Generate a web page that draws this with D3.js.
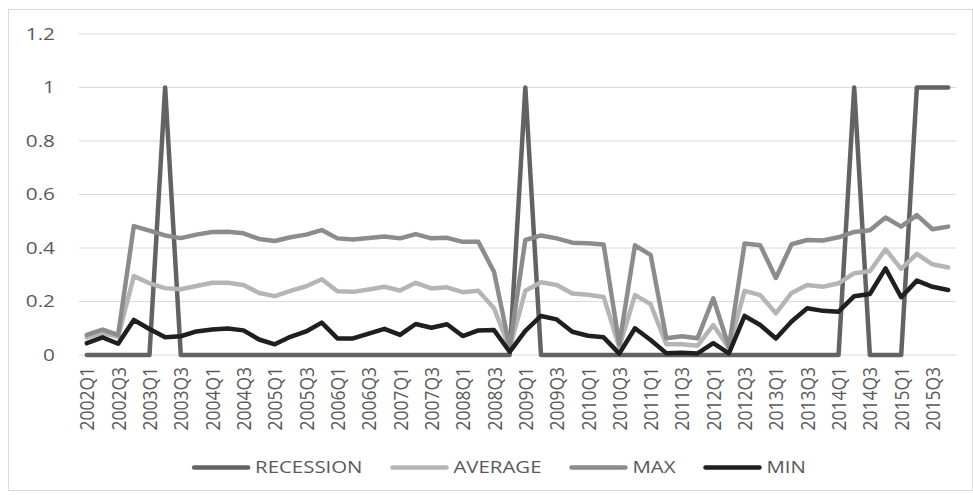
<!DOCTYPE html>
<html><head><meta charset="utf-8">
<script src="https://cdn.jsdelivr.net/npm/d3@7"></script>
<style>
html,body{margin:0;padding:0;background:#fff;}
svg{display:block;}
text{font-family:"Open Sans",sans-serif;fill:#595959;}
</style></head>
<body>
<svg id="chart" width="973" height="495"></svg>
<script>
const categories = [
"2002Q1","2002Q2","2002Q3","2002Q4","2003Q1","2003Q2","2003Q3","2003Q4",
"2004Q1","2004Q2","2004Q3","2004Q4","2005Q1","2005Q2","2005Q3","2005Q4",
"2006Q1","2006Q2","2006Q3","2006Q4","2007Q1","2007Q2","2007Q3","2007Q4",
"2008Q1","2008Q2","2008Q3","2008Q4","2009Q1","2009Q2","2009Q3","2009Q4",
"2010Q1","2010Q2","2010Q3","2010Q4","2011Q1","2011Q2","2011Q3","2011Q4",
"2012Q1","2012Q2","2012Q3","2012Q4","2013Q1","2013Q2","2013Q3","2013Q4",
"2014Q1","2014Q2","2014Q3","2014Q4","2015Q1","2015Q2","2015Q3","2015Q4"];
const tickLabels = ["2002Q1","2002Q3","2003Q1","2003Q3","2004Q1","2004Q3","2005Q1","2005Q3",
"2006Q1","2006Q3","2007Q1","2007Q3","2008Q1","2008Q3","2009Q1","2009Q3","2010Q1","2010Q3",
"2011Q1","2011Q3","2012Q1","2012Q3","2013Q1","2013Q3","2014Q1","2014Q3","2015Q1","2015Q3"];
const yTicks = [0,0.2,0.4,0.6,0.8,1,1.2];
const yTickLabels = ["0","0.2","0.4","0.6","0.8","1","1.2"];

const recession = [0,0,0,0,0,1,0,0,0,0,0,0,0,0,0,0,0,0,0,0,0,0,0,0,0,0,0,0,1,0,0,0,0,0,0,0,0,0,0,0,0,0,0,0,0,0,0,0,0,1,0,0,0,1,1,1];
const average = [0.066,0.083,0.068,0.295,0.268,0.25,0.246,0.258,0.27,0.27,0.262,0.232,0.22,0.24,0.257,0.283,
0.238,0.236,0.245,0.255,0.241,0.27,0.249,0.253,0.235,0.24,0.175,0.025,0.24,0.272,0.262,0.23,
0.225,0.217,0.03,0.224,0.19,0.04,0.04,0.035,0.112,0.025,0.24,0.224,0.156,0.232,0.262,0.255,
0.268,0.306,0.313,0.395,0.322,0.378,0.339,0.327];
const maxv = [0.075,0.095,0.075,0.482,0.465,0.447,0.437,0.45,0.46,0.461,0.455,0.434,0.426,0.44,0.45,0.467,
0.436,0.432,0.437,0.443,0.436,0.452,0.436,0.438,0.423,0.423,0.311,0.03,0.43,0.447,0.436,0.42,
0.418,0.413,0.04,0.41,0.374,0.063,0.07,0.063,0.212,0.03,0.417,0.41,0.288,0.414,0.43,0.428,
0.44,0.46,0.466,0.514,0.48,0.523,0.47,0.48];
const minv = [0.044,0.066,0.042,0.131,0.097,0.066,0.07,0.088,0.095,0.099,0.092,0.058,0.04,0.068,0.088,0.121,
0.062,0.062,0.08,0.098,0.075,0.116,0.102,0.115,0.071,0.092,0.093,0.012,0.09,0.146,0.133,0.087,
0.072,0.066,0.005,0.1,0.056,0.007,0.008,0.006,0.044,0.006,0.146,0.112,0.062,0.125,0.175,0.165,
0.162,0.22,0.228,0.324,0.216,0.278,0.255,0.243];

const seriesNames = ["RECESSION","AVERAGE","MAX","MIN"];
const seriesData = [recession, average, maxv, minv];
const seriesColors = ["#636363","#b5b5b5","#8c8c8c","#1f1f1f"];

const svg = d3.select("#chart");
svg.append("rect").attr("x",8.5).attr("y",9.5).attr("width",964).attr("height",481)
  .attr("fill","none").attr("stroke","#d9d9d9").attr("stroke-width",1);

const plotL=79, plotR=956, plotT=34, plotB=355;
const x = d3.scalePoint().domain(categories).range([plotL,plotR]).padding(0.5);
const y = d3.scaleLinear().domain([0,1.2]).range([plotB,plotT]);

svg.append("g").selectAll("line").data(yTicks).join("line")
  .attr("x1",plotL).attr("x2",plotR)
  .attr("y1",d=>y(d)).attr("y2",d=>y(d))
  .attr("stroke","#d9d9d9").attr("stroke-width",1.2);

const yAxis = d3.axisLeft(y).tickValues(yTicks).tickSize(0).tickPadding(0)
  .tickFormat((d,i)=>yTickLabels[i]);
const gy = svg.append("g").attr("transform","translate(55,0)").call(yAxis);
gy.select(".domain").remove();
gy.selectAll("text").attr("font-size","16px").attr("fill","#595959")
  .style("font-family","'Open Sans',sans-serif")
  .attr("x",0).attr("transform","scale(1.3,1)");

const xAxis = d3.axisBottom(x).tickValues(tickLabels).tickSize(0).tickPadding(0);
const gx = svg.append("g").attr("transform","translate(0,367)").call(xAxis);
gx.select(".domain").remove();
gx.selectAll("text")
  .attr("font-size","17.5px").attr("fill","#595959")
  .style("font-family","'Open Sans',sans-serif")
  .attr("text-anchor","end").attr("dy","0.35em")
  .attr("transform","scale(1.15,1) rotate(-90)").attr("x",0).attr("y",0);

const line = d3.line().x((d,i)=>x(categories[i])).y(d=>y(d));
svg.append("g").selectAll("path").data(seriesData).join("path")
  .attr("d",d=>line(d)).attr("fill","none")
  .attr("stroke",(d,i)=>seriesColors[i]).attr("stroke-width",4.5)
  .attr("stroke-linejoin","round").attr("stroke-linecap","round");

const lg = svg.append("g");
const items = lg.selectAll("g").data(seriesNames).join("g");
items.append("line").attr("x1",0).attr("x2",54).attr("y1",0).attr("y2",0)
  .attr("stroke",(d,i)=>seriesColors[i]).attr("stroke-width",4.5).attr("stroke-linecap","round");
const textScale = 1.2;
items.append("text").attr("x",0).attr("y",0).attr("dy","0.35em")
  .attr("transform",`translate(61,0) scale(${textScale},1)`)
  .attr("font-size","17px").attr("fill","#595959").text(d=>d);
let widths = [];
items.each(function(){ widths.push(61 + textScale*d3.select(this).select("text").node().getComputedTextLength()); });
const gap = 30;
const total = d3.sum(widths) + gap*(widths.length-1);
let cx = 500 - total/2;
items.attr("transform",(d,i)=>{ const t = `translate(${cx},467.5)`; cx += widths[i]+gap; return t; });
</script>
</body></html>
